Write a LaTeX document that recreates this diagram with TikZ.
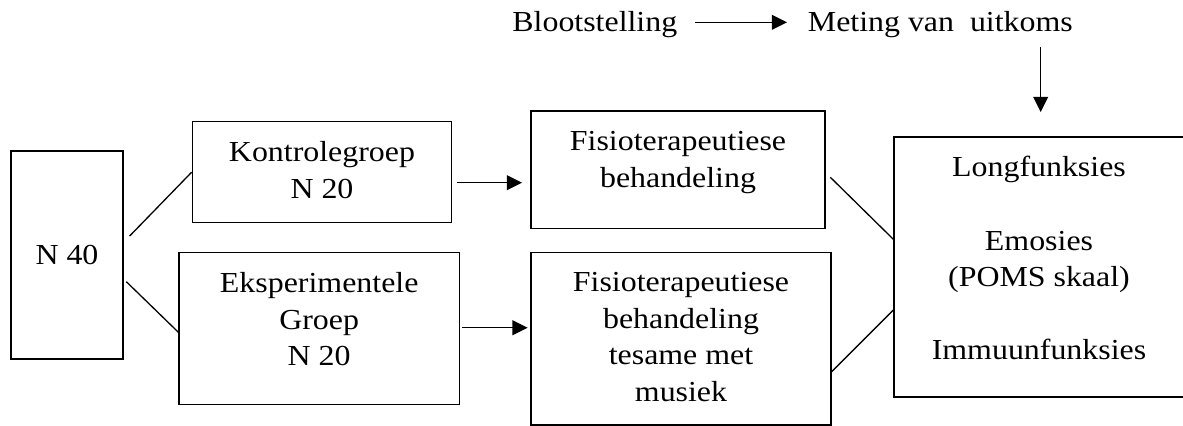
\documentclass[tikz,border=0pt]{standalone}
\usepackage{fontspec}
\setmainfont{Liberation Serif}[FakeStretch=1.1]
\usetikzlibrary{positioning,calc,arrows.meta}
\tikzset{
  box/.style={draw, line width=0.65pt, inner sep=0pt},
  txt/.style={font=\fontsize{14.5pt}{18.3pt}\selectfont, align=center, inner sep=0pt},
  link/.style={line width=0.65pt},
  arr/.style={line width=0.65pt, -{Triangle[length=7.6pt, width=7.4pt]}},
}

\begin{document}
\begin{tikzpicture}[x=0.5pt, y=-0.5pt]
  \useasboundingbox (0,0) rectangle (1183,425);

  \node[txt, anchor=base west] (bloot) at (512,31.7) {Blootstelling};
  \node[txt, anchor=base west] (meting) at (807.5,31.7) {Meting van\ \ uitkoms};

  \node[box, txt, minimum width=56pt, minimum height=104pt] (n40) at (67,255) {N 40};
  \node[box, minimum width=129.7pt, minimum height=50.5pt] (kontrole) at (322,172.2) {};
  \node[box, minimum width=140.15pt, minimum height=75.8pt] (eksp) at (319.2,328.5) {};
  \node[box, minimum width=147pt, minimum height=58.65pt] (fisio1) at (678,169.7) {};
  \node[box, minimum width=150pt, minimum height=86.3pt] (fisio2) at (681,338.6) {};
  \node[box, minimum width=152pt, minimum height=130pt] (big) at (1046,267) {};

  \node[txt, below=10pt of kontrole.north] (kontroletxt) {Kontrolegroep\\N 20};
  \node[txt, below=10pt of eksp.north] (eksptxt) {Eksperimentele\\Groep\\N 20};
  \node[txt, below=10.25pt of fisio1.north] (fisio1txt) {Fisioterapeutiese\\behandeling};
  \node[txt, below=10.25pt of fisio2.north] (fisio2txt) {Fisioterapeutiese\\behandeling\\tesame met\\musiek};
  \node[txt, below=9.85pt of big.north, xshift=-3.5pt] (bigtxt) {Longfunksies\\[18.3pt]Emosies\\(POMS skaal)\\[18.3pt]Immuunfunksies};

  \draw[arr] ($(bloot.east)+(17.7,-2.5)$) -- ($(meting.west)+(-20.5,-2.5)$);
  \draw[arr] ($(meting.south -| big.north)+(-5.3,9)$) -- ($(big.north)+(-5.3,-24.3)$);

  \draw[link] ($(n40.east)+(6,-19)$) -- (kontrole.west);
  \draw[link] ($(n40.east)+(2.7,26.7)$) -- ($(eksp.west)+(0,3.8)$);
  \draw[arr] ($(kontrole.east)+(5,10.5)$) -- ($(fisio1.west)+(-8.3,13)$);
  \draw[arr] ($(eksp.east)+(2.4,-0.8)$) -- ($(fisio2.west)+(-2.7,-10.9)$);
  \draw[link] ($(fisio1.east)+(4.7,7.6)$) -- ($(big.west)+(0,-27.7)$);
  \draw[link] ($(fisio2.east)+(0,33.1)$) -- ($(big.west)+(0,43)$);
\end{tikzpicture}
\end{document}
